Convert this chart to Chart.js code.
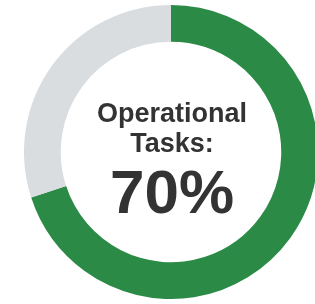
<!DOCTYPE html>
<html>
<head>
<meta charset="utf-8">
<script src="https://cdn.jsdelivr.net/npm/chart.js@4/dist/chart.umd.min.js"></script>
<style>
  html, body { margin: 0; padding: 0; background: #fff; overflow: hidden; width: 315px; height: 304px; }
  #wrap { position: absolute; left: 24px; top: 5px; width: 294px; height: 294px; }
</style>
</head>
<body>
<div id="wrap"><canvas id="chart" width="294" height="294"></canvas></div>
<script>
const categories = ['Operational Tasks', 'Other'];
const values = [70, 30];
const colors = ['#2a8a46', '#dadde0'];

// writes the label and share of the first slice in the hole
const centerText = {
  id: 'centerText',
  afterDraw(chart) {
    const ctx = chart.ctx;
    const meta = chart.getDatasetMeta(0).data[0];
    const x = meta.x + 1;
    const y = meta.y;
    const total = values.reduce((a, b) => a + b, 0);
    const pct = Math.round(values[0] / total * 100) + '%';
    const words = categories[0].split(' ');
    ctx.save();
    ctx.fillStyle = '#333333';
    ctx.textAlign = 'center';
    ctx.textBaseline = 'alphabetic';
    ctx.font = 'bold 27px "Liberation Sans", Arial, sans-serif';
    ctx.fillText(words[0], x, y - 30);
    ctx.fillText(words[1] + ':', x, y);
    ctx.font = 'bold 62px "Liberation Sans", Arial, sans-serif';
    ctx.fillText(pct, x, y + 61);
    ctx.restore();
  }
};

new Chart(document.getElementById('chart'), {
  type: 'doughnut',
  data: {
    labels: categories,
    datasets: [{
      data: values,
      backgroundColor: colors,
      borderWidth: 0
    }]
  },
  options: {
    responsive: false,
    animation: false,
    cutout: '75%',
    plugins: {
      legend: { display: false },
      tooltip: { enabled: false }
    }
  },
  plugins: [centerText]
});
</script>
</body>
</html>
